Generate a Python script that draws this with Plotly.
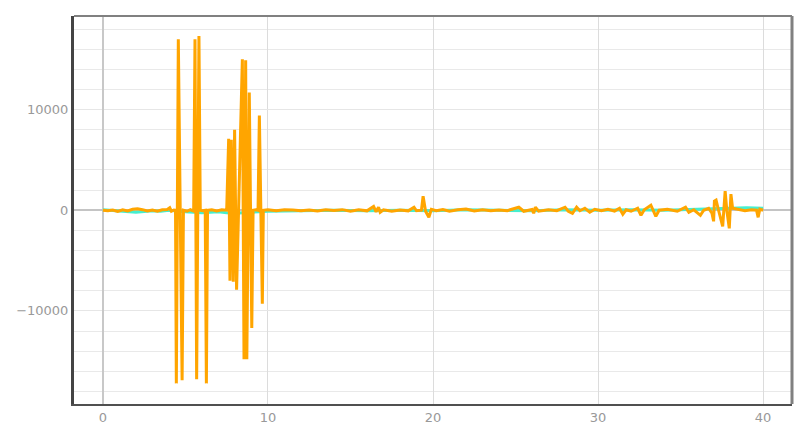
import plotly.graph_objects as go

# series
orange_x = [0.0, 0.3, 0.6, 0.9, 1.2, 1.5, 1.8, 2.1, 2.4, 2.7, 3.0, 3.3, 3.6, 3.9, 4.05, 4.15, 4.3,
            4.4, 4.45, 4.57, 4.8, 4.88, 5.1, 5.3, 5.5, 5.58, 5.68, 5.82, 5.9, 6.05, 6.2, 6.27, 6.34,
            6.6, 6.9, 7.2, 7.5, 7.62, 7.7, 7.78, 7.9, 7.98, 8.1, 8.22, 8.45, 8.55, 8.65, 8.72, 8.87,
            9.02, 9.1, 9.3, 9.4, 9.48, 9.66, 9.72,
            10.0, 10.5, 11.0, 11.5, 12.0, 12.5, 13.0, 13.5, 14.0, 14.5, 15.0, 15.5, 16.0, 16.4,
            16.55, 16.7, 16.8, 17.0, 17.5, 18.0, 18.5, 18.85, 19.0, 19.3, 19.4, 19.55, 19.75, 19.9,
            20.2, 20.6, 21.0, 21.5, 22.0, 22.5, 23.0, 23.5, 24.0, 24.5, 25.2, 25.5, 26.0, 26.1,
            26.2, 26.4, 27.0, 27.5, 28.0, 28.2, 28.45, 28.7, 28.9, 29.2, 29.5, 29.8, 30.2, 30.6,
            31.0, 31.3, 31.5, 31.7, 32.0, 32.4, 32.6, 32.8, 33.2, 33.5, 33.7, 34.2, 34.8, 35.3,
            35.5, 35.8, 36.2, 36.4, 36.7, 36.9, 37.0, 37.05, 37.15, 37.3, 37.55, 37.7, 37.8, 37.95,
            38.05, 38.15, 38.5, 38.9, 39.3, 39.6, 39.7, 39.8, 40.0]
orange_y = [0, -50, 30, -120, 40, -60, 100, 150, 60, -80, 20, -100, 50, 80, 250, -100, 30,
            0, -17200, 17000, -16900, 0, -100, 50, -80, 17000, -16800, 17300, 0, -50, 0, -17200, 0,
            50, -60, 40, 0, 7100, -7000, 7000, -7100, 8000, -7900, 0, 15000, -14800, 14900, -14800, 11700,
            -11700, 0, 50, 0, 9400, -9300, 0,
            50, -40, 60, 20, -50, 30, -80, 40, -30, 60, -100, 50, -60, 370,
            -150, 300, -200, 50, -100, 30, -60, 300, -50, 0, 1400, -100, -700, 100,
            -50, 80, -100, 40, 120, -80, 50, -60, 30, -40, 300, -100, 80, -300,
            300, -100, 40, -50, 300, -100, -300, 300, -50, 200, -200, 100, -50, 100,
            -80, 200, -400, 50, -100, 200, -500, 50, 500, -600, 0, 100, -100, 300,
            -200, 50, -500, 0, 200, -300, -1100, 900, 1000, 0, -1600, 1900, 0, -1800,
            1600, 200, 100, -50, 50, 0, -700, 100, 0]

cyan_x = [0, 0.5, 1, 1.5, 2, 2.5, 3, 3.5, 4, 5, 6, 6.5, 7, 7.5, 8, 8.5, 9, 9.5, 10, 12, 14, 16,
          18, 20, 22, 24, 26, 28, 30, 32, 34, 36, 37, 38, 39, 40]
cyan_y = [50, 0, -100, -150, -200, -120, -50, -100, 0, -150, -250, -200, -150, -250, -300, -250,
          -200, -150, -100, -50, 0, -50, 0, -50, 50, 0, -50, 50, 0, 50, 0, 100, 150, 200, 250, 200]

y_major = [-10000, 0, 10000]
y_labels = ['\u221210000', '0', '10000']
x_ticks = [0, 10, 20, 30, 40]

fig = go.Figure()
fig.add_trace(go.Scatter(x=cyan_x, y=cyan_y, mode='lines',
                         line=dict(color='#45EFCF', width=3)))
fig.add_trace(go.Scatter(x=orange_x, y=orange_y, mode='lines',
                         line=dict(color='#FFA500', width=3)))

# page body adds 8px, so the figure is a bit smaller than the window
fig.update_layout(
    width=800, height=425,
    margin=dict(l=64, r=16, t=8, b=28),
    paper_bgcolor='white', plot_bgcolor='white',
    showlegend=False,
    font=dict(family='DejaVu Sans', size=13, color='#999999'),
    shapes=[
        dict(type='line', xref='paper', yref='paper', x0=0, x1=1, y0=1, y1=1,
             line=dict(color='#808080', width=2)),
        dict(type='line', xref='paper', yref='paper', x0=1, x1=1, y0=0, y1=1,
             line=dict(color='#808080', width=3)),
    ],
)
fig.update_xaxes(range=[-1.75, 41.75], tickvals=x_ticks, ticks='',
                 showgrid=True, gridcolor='#dcdcdc', gridwidth=1,
                 zeroline=True, zerolinecolor='#c8c8c8', zerolinewidth=2,
                 showline=True, linecolor='#505050', linewidth=2)
fig.update_yaxes(range=[-19250, 19300], tickvals=y_major, ticktext=y_labels, ticks='',
                 showgrid=True, gridcolor='#e6e6e6', gridwidth=1,
                 minor=dict(dtick=2000, showgrid=True, gridcolor='#e9e9e9', gridwidth=1),
                 zeroline=True, zerolinecolor='#c4c4c4', zerolinewidth=2,
                 showline=True, linecolor='#444444', linewidth=3)

fig.write_html("out.html")
